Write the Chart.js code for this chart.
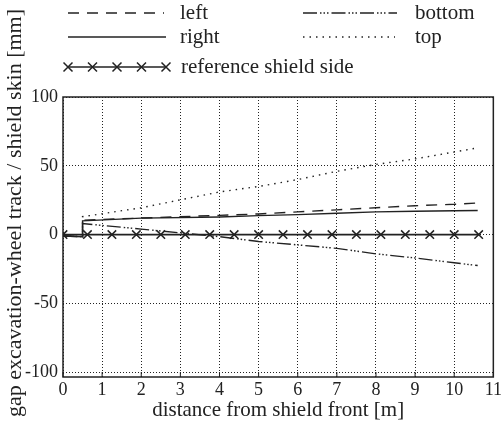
<!DOCTYPE html>
<html>
<head>
<meta charset="utf-8">
<script src="https://cdn.jsdelivr.net/npm/chart.js@4"></script>
<style>
  html, body { margin: 0; padding: 0; background: #fff; }
  #gapChart { display: block; }
</style>
</head>
<body>
<canvas id="gapChart" width="504" height="423"></canvas>
<script>
// distances along the shield [m]
const distX = [0, 0.5, 0.5, 2, 4, 5, 6, 7, 8, 9, 10, 10.6];

// gap per side [mm]
const leftGap   = [-1, -1.5, 10.5, 12, 14, 15, 16.5, 18, 19.5, 21, 22, 23];
const rightGap  = [-1, -1.5, 10, 12, 12.8, 13.8, 14.5, 15.5, 16.5, 17, 17.3, 17.5];
const topGap    = [-1, -1.5, 13, 19.5, 31, 35, 40, 46, 51, 55, 60, 63];
const bottomGap = [-1, -1.5, 8, 4, -1.5, -5, -7.5, -10, -14, -17, -20.5, -22.5];

// reference shield side (markers)
const refX = [0, 0.625, 1.25, 1.875, 2.5, 3.125, 3.75, 4.375, 5, 5.625, 6.25, 6.875, 7.5, 8.125, 8.75, 9.375, 10, 10.625];
const refY = [0, 0, 0, 0, 0, 0, 0, 0, 0, 0, 0, 0, 0, 0, 0, 0, 0, 0];

const xTicks = [0, 1, 2, 3, 4, 5, 6, 7, 8, 9, 10, 11];
const yTicks = [-100, -50, 0, 50, 100];

const SERIF = '"Liberation Serif", "DejaVu Serif", serif';
const INK = '#222';

function toPoints(xs, ys) {
    return xs.map((x, i) => ({ x: x, y: ys[i] }));
}

const series = [
    { label: 'left',   data: toPoints(distX, leftGap),   dash: [11, 8] },
    { label: 'right',  data: toPoints(distX, rightGap),  dash: [] },
    { label: 'top',    data: toPoints(distX, topGap),    dash: [1.5, 5] },
    { label: 'bottom', data: toPoints(distX, bottomGap), dash: [14, 3, 1.5, 2, 1.5, 2, 1.5, 3] }
];

const datasets = series.map(s => ({
    label: s.label,
    data: s.data,
    borderColor: INK,
    borderWidth: 1.4,
    borderDash: s.dash,
    pointRadius: 0,
    fill: false,
    tension: 0
}));

datasets.push({
    label: 'reference shield side',
    data: toPoints(refX, refY),
    borderColor: INK,
    borderWidth: 1.6,
    pointStyle: 'crossRot',
    pointRadius: 6,
    pointBorderWidth: 1.5,
    pointBorderColor: INK,
    fill: false
});

// legend entries: where each sample sits
const legendItems = [
    { idx: 0, x0: 68,  x1: 164, y: 13, tx: 180 },
    { idx: 3, x0: 303, x1: 397, y: 13, tx: 415 },
    { idx: 1, x0: 68,  x1: 166, y: 37, tx: 180 },
    { idx: 2, x0: 303, x1: 395, y: 37, tx: 415 },
    { idx: 4, x0: 68,  x1: 166, y: 67, tx: 181 }
];

const framePlugin = {
    id: 'frame',
    afterDraw(chart) {
        const ctx = chart.ctx;
        const a = chart.chartArea;
        const xs = chart.scales.x;
        ctx.save();
        // box
        ctx.strokeStyle = INK;
        ctx.lineWidth = 1.5;
        ctx.setLineDash([]);
        ctx.strokeRect(a.left, a.top, a.right - a.left, a.bottom - a.top);
        // small inner ticks on x axis
        ctx.lineWidth = 1;
        xTicks.forEach(v => {
            const px = xs.getPixelForValue(v);
            ctx.beginPath();
            ctx.moveTo(px, a.bottom);
            ctx.lineTo(px, a.bottom - 5);
            ctx.stroke();
        });

        // legend
        ctx.font = '21px ' + SERIF;
        ctx.fillStyle = INK;
        ctx.textBaseline = 'middle';
        legendItems.forEach(item => {
            const ds = chart.data.datasets[item.idx];
            ctx.strokeStyle = INK;
            ctx.lineWidth = ds.borderWidth;
            ctx.setLineDash(ds.borderDash || []);
            ctx.beginPath();
            ctx.moveTo(item.x0, item.y);
            ctx.lineTo(item.x1, item.y);
            ctx.stroke();
            ctx.setLineDash([]);
            if (ds.pointStyle === 'crossRot') {
                const n = 5;
                for (let k = 0; k < n; k++) {
                    const cx = item.x0 + (item.x1 - item.x0) * k / (n - 1);
                    ctx.lineWidth = 1.5;
                    ctx.beginPath();
                    ctx.moveTo(cx - 4.5, item.y - 4.5);
                    ctx.lineTo(cx + 4.5, item.y + 4.5);
                    ctx.moveTo(cx - 4.5, item.y + 4.5);
                    ctx.lineTo(cx + 4.5, item.y - 4.5);
                    ctx.stroke();
                }
            }
            ctx.fillText(ds.label, item.tx, item.y);
        });

        // y axis title
        ctx.translate(15, 213);
        ctx.rotate(-Math.PI / 2);
        ctx.textAlign = 'center';
        ctx.font = '22px ' + SERIF;
        ctx.fillText('gap excavation-wheel track / shield skin [mm]', 0, 0);
        ctx.restore();
    }
};

const ctx = document.getElementById('gapChart').getContext('2d');
new Chart(ctx, {
    type: 'line',
    data: { datasets: datasets },
    options: {
        responsive: false,
        animation: false,
        layout: { padding: { top: 97, right: 10, left: 0, bottom: 0 } },
        plugins: {
            legend: { display: false },
            tooltip: { enabled: false }
        },
        scales: {
            x: {
                type: 'linear',
                min: 0,
                max: 11,
                afterBuildTicks: function(scale) {
                    scale.ticks = xTicks.map(v => ({ value: v }));
                },
                afterFit: function(scale) { scale.height = 46; },
                grid: { color: INK, lineWidth: 1, drawTicks: false },
                border: { display: false, dash: [1, 2] },
                ticks: {
                    color: INK,
                    padding: 2,
                    maxRotation: 0,
                    font: { family: SERIF, size: 18 }
                },
                title: {
                    display: true,
                    text: 'distance from shield front [m]',
                    color: INK,
                    padding: { top: -4, bottom: 0 },
                    font: { family: SERIF, size: 21 }
                }
            },
            y: {
                type: 'linear',
                min: -103.5,
                max: 100,
                afterBuildTicks: function(scale) {
                    scale.ticks = yTicks.map(v => ({ value: v }));
                },
                afterFit: function(scale) { scale.width = 63; },
                grid: { color: INK, lineWidth: 1, drawTicks: false },
                border: { display: false, dash: [1, 2] },
                ticks: {
                    color: INK,
                    padding: 5,
                    font: { family: SERIF, size: 18 }
                }
            }
        }
    },
    plugins: [framePlugin]
});
</script>
</body>
</html>
